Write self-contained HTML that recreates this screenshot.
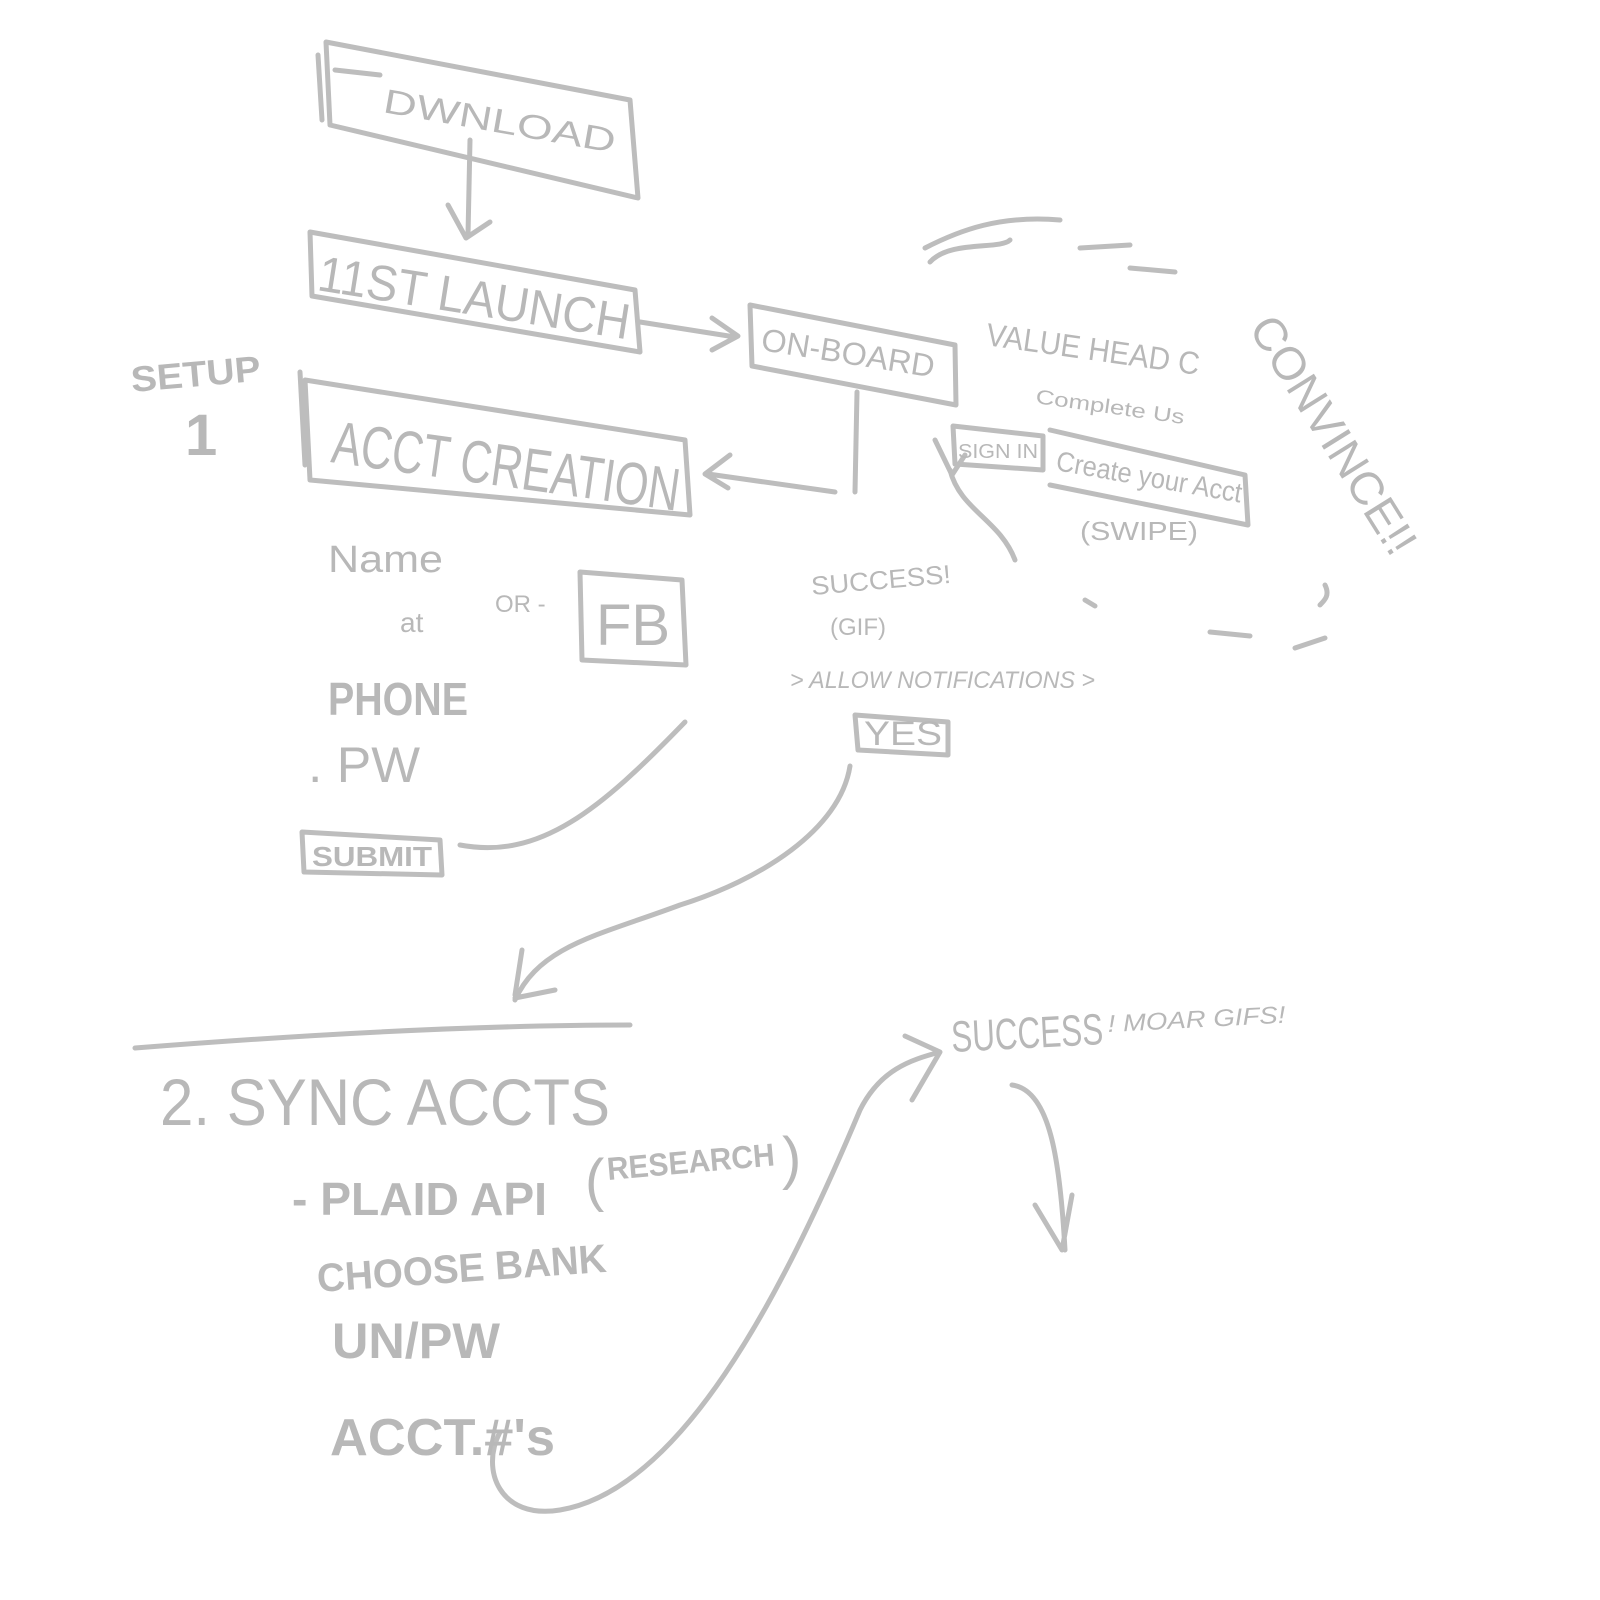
<!DOCTYPE html>
<html><head><meta charset="utf-8"><style>
html,body{margin:0;padding:0;background:#fff;}
svg{display:block;}
text{font-family:"Liberation Sans",sans-serif;fill:#b8b8b8;}
</style></head><body>
<svg width="1600" height="1600" viewBox="0 0 1600 1600" xmlns="http://www.w3.org/2000/svg">
<g fill="none" stroke="#bdbdbd" stroke-width="5" stroke-linecap="round" stroke-linejoin="round">
<path d="M326 42 L630 100 L638 198 L330 125 Z"/>
<path d="M318 55 L322 120 M335 70 L380 75"/>
<path d="M470 140 L468 235 M448 205 L466 238 L490 222"/>
<path d="M310 232 L635 290 L640 352 L312 296 Z"/>
<path d="M640 322 L735 337 M712 318 L738 336 L712 350"/>
<path d="M750 305 L955 345 L956 405 L752 366 Z"/>
<path d="M857 392 L855 492 M835 492 L708 474 M730 455 L705 474 L728 488"/>
<path d="M305 380 L685 440 L690 515 L310 480 Z"/>
<path d="M300 372 L305 465"/>
<path d="M580 572 L682 580 L686 665 L582 660 Z"/>
<path d="M302 832 L440 840 L442 875 L304 872 Z"/>
<path d="M460 845 C540 860 600 810 685 722"/>
<path d="M850 766 C840 830 760 880 680 905 C600 935 540 945 515 1000 M515 995 L522 950 M515 998 L555 990"/>
<path d="M953 426 L1043 436 L1043 470 L955 464 Z"/>
<path d="M1050 430 L1245 475 L1248 525 L1050 485"/>
<path d="M950 470 C960 510 1000 520 1015 560 M935 440 L952 475 L965 455"/>
<path d="M925 248 C960 230 1000 215 1060 220 M930 262 C950 240 1000 250 1010 240 M1080 248 L1130 245 M1130 268 L1175 272 M1325 585 C1330 595 1325 600 1320 605 M1295 648 L1325 638 M1210 632 L1250 636 M1085 600 L1095 606"/>
<path d="M135 1048 C300 1035 470 1025 630 1025"/>
<path d="M500 1432 C480 1470 500 1520 560 1510 C680 1490 780 1300 860 1110 C880 1070 910 1060 940 1052 M905 1036 L940 1052 L912 1100"/>
<path d="M1012 1085 C1050 1090 1060 1160 1065 1250 M1035 1205 L1062 1250 L1072 1195"/>
<path d="M855 715 L948 722 L948 755 L858 750 Z"/>
</g>
<g>
<text x="382" y="112" font-size="34" transform="rotate(10 382 112)" textLength="235" lengthAdjust="spacingAndGlyphs">DWNLOAD</text>
<text x="316" y="290" font-size="50" transform="rotate(9 316 290)" textLength="315" lengthAdjust="spacingAndGlyphs">11ST LAUNCH</text>
<text x="760" y="350" font-size="32" transform="rotate(9 760 350)" textLength="175" lengthAdjust="spacingAndGlyphs">ON-BOARD</text>
<text x="132" y="392" font-size="36" font-weight="bold" transform="rotate(-5 132 392)" textLength="130" lengthAdjust="spacingAndGlyphs">SETUP</text>
<text x="185" y="455" font-size="58" font-weight="bold">1</text>
<text x="330" y="462" font-size="60" transform="rotate(8 330 462)" textLength="350" lengthAdjust="spacingAndGlyphs">ACCT CREATION</text>
<text x="328" y="572" font-size="38" textLength="115" lengthAdjust="spacingAndGlyphs">Name</text>
<text x="400" y="632" font-size="28">at</text>
<text x="495" y="612" font-size="24">OR -</text>
<text x="596" y="645" font-size="58">FB</text>
<text x="328" y="715" font-size="46" font-weight="bold" textLength="140" lengthAdjust="spacingAndGlyphs">PHONE</text>
<text x="308" y="782" font-size="50" textLength="112" lengthAdjust="spacingAndGlyphs">. PW</text>
<text x="312" y="866" font-size="28" font-weight="bold" textLength="120" lengthAdjust="spacingAndGlyphs">SUBMIT</text>
<text x="812" y="595" font-size="26" transform="rotate(-5 812 595)" textLength="140" lengthAdjust="spacingAndGlyphs">SUCCESS!</text>
<text x="830" y="635" font-size="24">(GIF)</text>
<text x="790" y="688" font-size="24" font-style="italic" textLength="305" lengthAdjust="spacingAndGlyphs">&gt; ALLOW NOTIFICATIONS &gt;</text>
<text x="864" y="745" font-size="34" textLength="78" lengthAdjust="spacingAndGlyphs">YES</text>
<text x="985" y="345" font-size="32" transform="rotate(8 985 345)" textLength="215" lengthAdjust="spacingAndGlyphs">VALUE HEAD  C</text>
<text x="1035" y="403" font-size="20" transform="rotate(8 1035 403)" textLength="150" lengthAdjust="spacingAndGlyphs">Complete Us</text>
<text x="958" y="458" font-size="20" textLength="80" lengthAdjust="spacingAndGlyphs">SIGN IN</text>
<text x="1055" y="470" font-size="28" transform="rotate(10 1055 470)" textLength="188" lengthAdjust="spacingAndGlyphs">Create your Acct</text>
<text x="1080" y="540" font-size="26" textLength="118" lengthAdjust="spacingAndGlyphs">(SWIPE)</text>
<text x="1248" y="328" font-size="46" transform="rotate(58 1248 328)" textLength="272" lengthAdjust="spacingAndGlyphs">CONVINCE!!</text>
<text x="160" y="1125" font-size="66" textLength="450" lengthAdjust="spacingAndGlyphs">2. SYNC ACCTS</text>
<text x="292" y="1215" font-size="46" font-weight="bold" textLength="255" lengthAdjust="spacingAndGlyphs">- PLAID API</text>
<text x="585" y="1200" font-size="58">(</text>
<text x="608" y="1180" font-size="32" font-weight="bold" transform="rotate(-5 608 1180)" textLength="168" lengthAdjust="spacingAndGlyphs">RESEARCH</text>
<text x="782" y="1178" font-size="58">)</text>
<text x="318" y="1292" font-size="40" font-weight="bold" transform="rotate(-4 318 1292)" textLength="290" lengthAdjust="spacingAndGlyphs">CHOOSE BANK</text>
<text x="332" y="1358" font-size="50" font-weight="bold" textLength="168" lengthAdjust="spacingAndGlyphs">UN/PW</text>
<text x="330" y="1455" font-size="52" font-weight="bold" textLength="225" lengthAdjust="spacingAndGlyphs">ACCT.#'s</text>
<text x="952" y="1052" font-size="44" transform="rotate(-3 952 1052)" textLength="152" lengthAdjust="spacingAndGlyphs">SUCCESS</text>
<text x="1108" y="1032" font-size="24" font-style="italic" transform="rotate(-3 1108 1032)" textLength="178" lengthAdjust="spacingAndGlyphs">! MOAR GIFS!</text>
</g>
</svg>
</body></html>
